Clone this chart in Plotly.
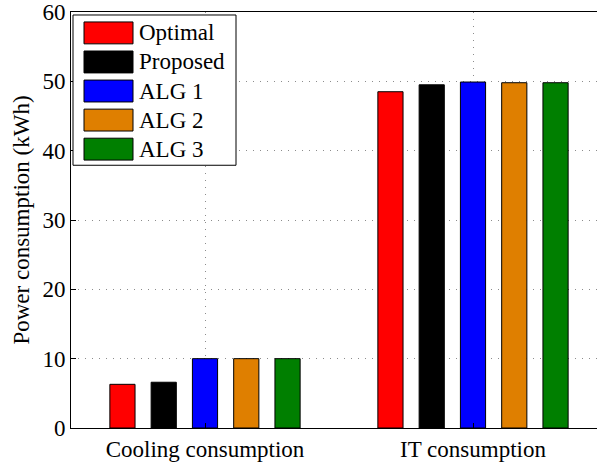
import plotly.graph_objects as go

# Data
categories = ["Cooling consumption", "IT consumption"]
series_names = ["Optimal", "Proposed", "ALG 1", "ALG 2", "ALG 3"]
series_values = [
    [6.3, 48.5],
    [6.6, 49.5],
    [10.0, 49.9],
    [10.0, 49.8],
    [10.0, 49.8],
]
series_colors = ["#FF0000", "#000000", "#0000FF", "#DF7F00", "#007F00"]
y_ticks = [0, 10, 20, 30, 40, 50, 60]

FONT = "Liberation Serif, Times New Roman, Times, serif"
FS = 23

fig = go.Figure()
for name, vals, col in zip(series_names, series_values, series_colors):
    fig.add_trace(go.Bar(
        x=categories, y=vals, name=name,
        marker=dict(color=col, line=dict(color="#000000", width=1)),
        showlegend=False,
    ))

W, H = 597, 464
ml, mr, mt, mb = 71, 0, 10, 36
GRID_DASH = "1px,6px"

fig.update_layout(
    width=W, height=H,
    margin=dict(l=ml, r=mr, t=mt, b=mb),
    paper_bgcolor="white", plot_bgcolor="white",
    barmode="group", bargap=0.23, bargroupgap=0.39,
    font=dict(family=FONT, size=FS, color="black"),
    xaxis=dict(
        type="category", range=[-0.5, 1.4627],
        showline=True, linecolor="black", linewidth=1, mirror=True,
        showgrid=True, gridcolor="#8C8C8C", griddash=GRID_DASH, gridwidth=1,
        ticks="inside", ticklen=5, tickcolor="black",
        tickfont=dict(family=FONT, size=FS),
    ),
    yaxis=dict(
        range=[0, 60], tickvals=y_ticks,
        showline=True, linecolor="black", linewidth=1,
        showgrid=True, gridcolor="#8C8C8C", griddash=GRID_DASH, gridwidth=1,
        zeroline=False, ticklabeloverflow="allow",
        ticks="inside", ticklen=5, tickcolor="black",
        tickfont=dict(family=FONT, size=FS),
        title=dict(text="Power consumption (kWh)", font=dict(family=FONT, size=FS), standoff=6),
    ),
)

# Legend drawn as a boxed list of wide swatches in the top-left corner
def px_x(p):
    return (p - ml) / (W - ml - mr)

def px_y(p):
    return 1 - (p - mt) / (H - mt - mb)

shapes = [dict(type="rect", xref="paper", yref="paper",
               x0=px_x(73), x1=px_x(236), y0=px_y(164), y1=px_y(13),
               line=dict(color="black", width=1), fillcolor="white", layer="above")]
annotations = []
row0, step = 31, 29.2
for i, (name, col) in enumerate(zip(series_names, series_colors)):
    cy = row0 + i * step
    shapes.append(dict(type="rect", xref="paper", yref="paper",
                       x0=px_x(84), x1=px_x(133), y0=px_y(cy + 11), y1=px_y(cy - 11),
                       line=dict(color="black", width=1), fillcolor=col, layer="above"))
    annotations.append(dict(xref="paper", yref="paper", x=px_x(137), y=px_y(cy),
                            text=name, showarrow=False, xanchor="left", yanchor="middle",
                            font=dict(family=FONT, size=FS, color="black")))
fig.update_layout(shapes=shapes, annotations=annotations)

fig.write_html("out.html")
